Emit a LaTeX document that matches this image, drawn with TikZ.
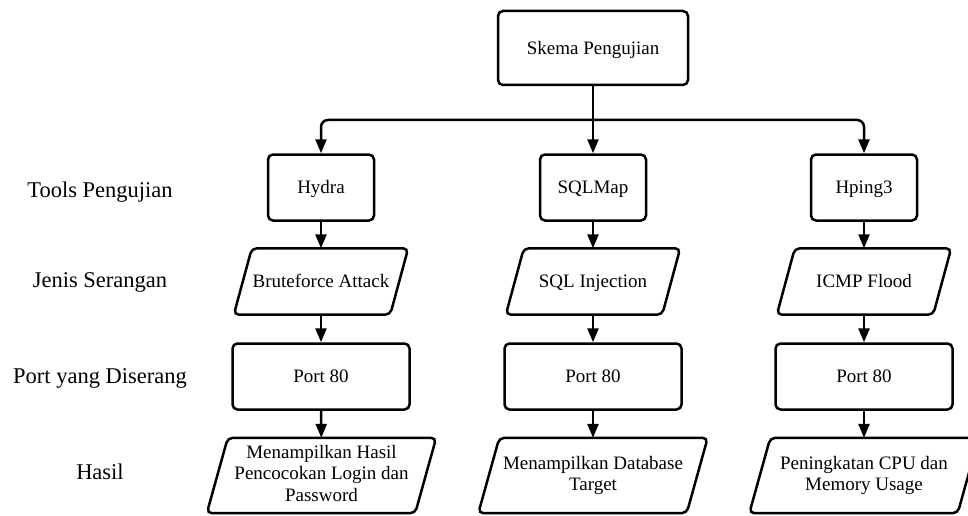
\documentclass[tikz,border=0pt]{standalone}
\usepackage{fontspec}
\setmainfont{Liberation Serif}
\usetikzlibrary{arrows.meta}
\newcommand\topstrut{\rule{0pt}{17.1pt}}
\newcommand\botstrut{\rule[-4.5pt]{0pt}{4.5pt}}
\tikzset{
  outline/.style={draw, line width=2.5pt, rounded corners=5pt},
  box/.style={outline, minimum height=66pt, inner sep=0pt, align=center,
    font=\fontsize{19}{21.5}\selectfont,
    execute at begin node=\topstrut, execute at end node=\botstrut},
  ptext/.style={inner sep=0pt, align=center, minimum height=66pt,
    font=\fontsize{19}{21.5}\selectfont,
    execute at begin node=\topstrut, execute at end node=\botstrut},
  lbl/.style={font=\fontsize{22.5}{26}\selectfont, inner sep=0pt},
  arr/.style={line width=2.5pt, -{Triangle[width=11pt,length=14pt]}},
}
\newcommand\drawpara[2]{%
  \draw[outline] ([xshift=#2]#1.north west) -- ([xshift=#2]#1.north east)
    -- ([xshift=-#2]#1.south east) -- ([xshift=-#2]#1.south west) -- cycle;}
\begin{document}
\begin{tikzpicture}[x=1pt,y=-1pt]
\useasboundingbox (0,0) rectangle (968,516);
% row labels
\node[lbl] (l1) at (100,192) {Tools Pengujian};
\node[lbl] (l2) at (100,282) {Jenis Serangan};
\node[lbl] (l3) at (100,378) {Port yang Diserang};
\node[lbl] (l4) at (100,472) {Hasil};
% top
\node[box, minimum width=190pt, minimum height=74pt] (top) at (593,48) {Skema Pengujian};
\coordinate (bar) at (593,120);
% row 1
\node[box, minimum width=106pt] (hydra) at (321,187.5) {Hydra};
\node[box, minimum width=106pt] (sqlmap) at (593,187.5) {SQLMap};
\node[box, minimum width=106pt] (hping) at (864,187.5) {Hping3};
% row 2
\node[ptext, minimum width=156pt] (bf) at (321,281.5) {Bruteforce Attack};
\node[ptext, minimum width=156pt] (sqli) at (593,281.5) {SQL Injection};
\node[ptext, minimum width=156pt] (icmp) at (864,281.5) {ICMP Flood};
\drawpara{bf}{9pt}
\drawpara{sqli}{9pt}
\drawpara{icmp}{9pt}
% row 3
\node[box, minimum width=177pt] (p1) at (321,376.5) {Port 80};
\node[box, minimum width=177pt] (p2) at (593,376.5) {Port 80};
\node[box, minimum width=177pt] (p3) at (864,376.5) {Port 80};
% row 4
\node[ptext, minimum width=208pt, minimum height=75pt] (r1) at (321.5,475.5) {Menampilkan Hasil\\Pencocokan Login dan\\Password};
\node[ptext, minimum width=208pt, minimum height=75pt] (r2) at (593,475.5) {Menampilkan Database\\Target};
\node[ptext, minimum width=208pt, minimum height=75pt] (r3) at (864,475.5) {Peningkatan CPU dan\\Memory Usage};
\drawpara{r1}{10.5pt}
\drawpara{r2}{10.5pt}
\drawpara{r3}{10.5pt}
% connectors
\draw[arr] (top.south) -- (sqlmap.north);
\draw[arr, rounded corners=7pt] (bar) -| (hydra.north);
\draw[arr, rounded corners=7pt] (bar) -| (hping.north);
\draw[arr] (hydra) -- (bf);
\draw[arr] (sqlmap) -- (sqli);
\draw[arr] (hping) -- (icmp);
\draw[arr] (bf) -- (p1);
\draw[arr] (sqli) -- (p2);
\draw[arr] (icmp) -- (p3);
\draw[arr] (p1) -- (r1);
\draw[arr] (p2) -- (r2);
\draw[arr] (p3) -- (r3);
\end{tikzpicture}
\end{document}
